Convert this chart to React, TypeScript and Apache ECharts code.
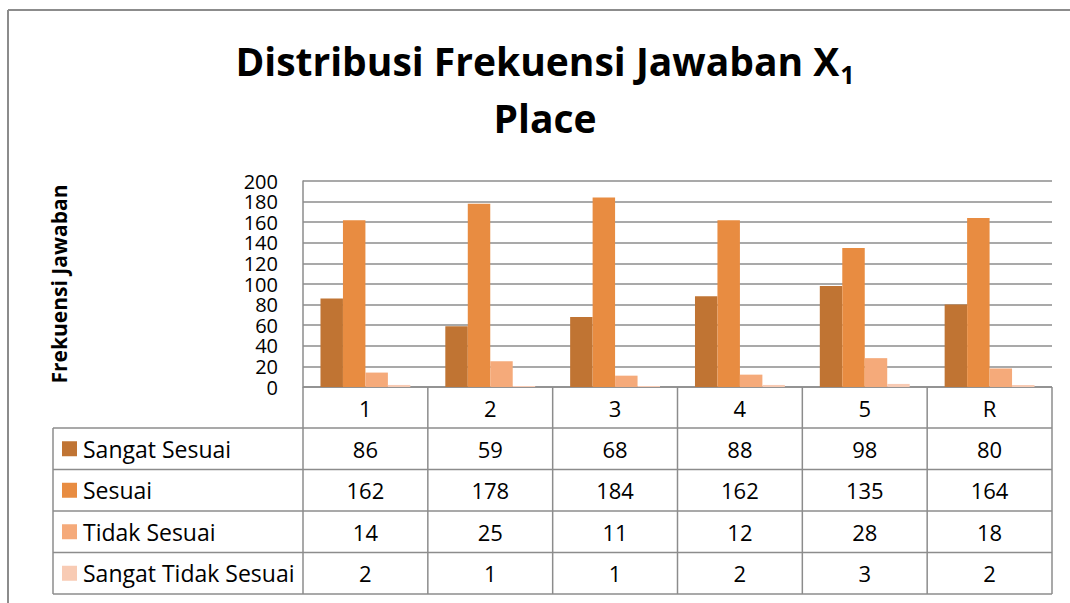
import React, { useEffect, useRef } from "react";
import * as echarts from "echarts";

const categories = ["1", "2", "3", "4", "5", "R"];
const seriesNames = ["Sangat Sesuai", "Sesuai", "Tidak Sesuai", "Sangat Tidak Sesuai"];
const sangatSesuai = [86, 59, 68, 88, 98, 80];
const sesuai = [162, 178, 184, 162, 135, 164];
const tidakSesuai = [14, 25, 11, 12, 28, 18];
const sangatTidakSesuai = [2, 1, 1, 2, 3, 2];
const yTicks = [0, 20, 40, 60, 80, 100, 120, 140, 160, 180, 200];
const colors = ["#C07433", "#E88C41", "#F5AA7A", "#F8CBB4"];

const W = 1070;
const H = 603;
const PLOT_L = 303;
const PLOT_R = 1052;
const PLOT_T = 181;
const PLOT_B = 387;
const TABLE_L = 53;
const CAT_ROW_B = 428;
const ROW_H = 41.5;
const LINE = "#8c8c8c";
const FONT = "'Open Sans', 'Noto Sans', sans-serif";

export default function App() {
  const ref = useRef<HTMLDivElement>(null);
  useEffect(() => {
    if (!ref.current) return;
    const chart = echarts.init(ref.current, null, { renderer: "svg" });
    const allSeries = [sangatSesuai, sesuai, tidakSesuai, sangatTidakSesuai];
    const colW = (PLOT_R - PLOT_L) / categories.length;
    const g: any[] = [];
    // outer border
    g.push({ type: "line", shape: { x1: 8, y1: 10, x2: W, y2: 10 }, style: { stroke: LINE, lineWidth: 2 } });
    g.push({ type: "line", shape: { x1: 8, y1: 10, x2: 8, y2: H }, style: { stroke: LINE, lineWidth: 2 } });
    // y axis title
    g.push({
      type: "text",
      x: 59,
      y: 284,
      rotation: Math.PI / 2,
      style: {
        text: "Frekuensi Jawaban",
        font: `bold 21px ${FONT}`,
        fill: "#000",
        textAlign: "center",
        textVerticalAlign: "middle",
      },
    });
    const tableBottom = CAT_ROW_B + ROW_H * seriesNames.length;
    // horizontal table lines
    g.push({ type: "line", shape: { x1: PLOT_L, y1: PLOT_B, x2: PLOT_R, y2: PLOT_B }, style: { stroke: LINE, lineWidth: 1.5 } });
    for (let r = 0; r <= seriesNames.length; r++) {
      const y = CAT_ROW_B + ROW_H * r;
      g.push({ type: "line", shape: { x1: TABLE_L, y1: y, x2: PLOT_R, y2: y }, style: { stroke: LINE, lineWidth: 1.5 } });
    }
    // vertical table lines
    g.push({ type: "line", shape: { x1: TABLE_L, y1: CAT_ROW_B, x2: TABLE_L, y2: tableBottom }, style: { stroke: LINE, lineWidth: 1.5 } });
    for (let c = 0; c <= categories.length; c++) {
      const x = PLOT_L + colW * c;
      g.push({ type: "line", shape: { x1: x, y1: PLOT_B, x2: x, y2: tableBottom }, style: { stroke: LINE, lineWidth: 1.5 } });
    }
    // category labels
    categories.forEach((cat, c) => {
      g.push({
        type: "text",
        x: PLOT_L + colW * (c + 0.5),
        y: (PLOT_B + CAT_ROW_B) / 2,
        style: { text: cat, font: `22px ${FONT}`, fill: "#000", textAlign: "center", textVerticalAlign: "middle" },
      });
    });
    // rows
    seriesNames.forEach((name, r) => {
      const cy = CAT_ROW_B + ROW_H * (r + 0.5);
      g.push({ type: "rect", shape: { x: 62, y: cy - 7.5, width: 15, height: 15 }, style: { fill: colors[r] } });
      g.push({
        type: "text",
        x: 83,
        y: cy,
        style: { text: name, font: `23px ${FONT}`, fill: "#000", textAlign: "left", textVerticalAlign: "middle" },
      });
      allSeries[r].forEach((v, c) => {
        g.push({
          type: "text",
          x: PLOT_L + colW * (c + 0.5),
          y: cy,
          style: { text: String(v), font: `22px ${FONT}`, fill: "#000", textAlign: "center", textVerticalAlign: "middle" },
        });
      });
    });

    chart.setOption({
      animation: false,
      backgroundColor: "#fff",
      title: {
        text: "{t|Distribusi Frekuensi Jawaban X}{s|1}\n{t|Place}",
        left: 545,
        textAlign: "center",
        top: 32,
        padding: 0,
        textStyle: {
          rich: {
            t: { fontSize: 39, fontWeight: "bold", fontFamily: FONT, color: "#000", lineHeight: 57 },
            s: { fontSize: 25, fontWeight: "bold", fontFamily: FONT, color: "#000", padding: [26, 0, 0, 1] },
          },
        },
      },
      grid: { left: PLOT_L, right: W - PLOT_R, top: PLOT_T, bottom: H - PLOT_B, containLabel: false },
      xAxis: {
        type: "category",
        data: categories,
        axisLine: { show: false },
        axisTick: { show: false },
        axisLabel: { show: false },
      },
      yAxis: {
        type: "value",
        min: yTicks[0],
        max: yTicks[yTicks.length - 1],
        interval: 20,
        axisLine: { show: true, lineStyle: { color: LINE, width: 1.5 } },
        axisTick: { show: false },
        axisLabel: {
          fontSize: 20,
          lineHeight: 18,
          fontFamily: FONT,
          color: "#000",
          margin: 25,
          showMinLabel: true,
          showMaxLabel: true,
          hideOverlap: false,
        },
        splitLine: { lineStyle: { color: LINE, width: 1.5 } },
      },
      series: seriesNames.map((name, i) => ({
        name,
        type: "bar",
        data: allSeries[i],
        barGap: "0%",
        barCategoryGap: "28%",
        itemStyle: { color: colors[i] },
      })),
      graphic: g,
    });
    return () => chart.dispose();
  }, []);
  return <div ref={ref} style={{ position: "absolute", left: 0, top: 0, width: W, height: H }} />;
}
